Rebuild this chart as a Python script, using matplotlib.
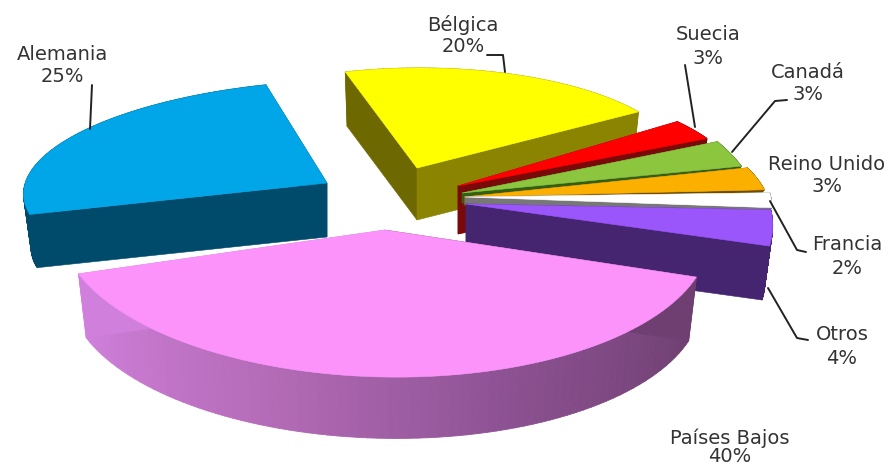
import numpy as np
from matplotlib import pyplot as plt
from matplotlib.collections import PolyCollection
from matplotlib.colors import LinearSegmentedColormap
from matplotlib.patches import Polygon

# in pie order, counter-clockwise
labels = ['Otros', 'Francia', 'Reino Unido', 'Canadá', 'Suecia', 'Bélgica', 'Alemania', 'Países Bajos']
values = [4, 2, 3, 3, 3, 20, 25, 40]
start_angle = 339

top_colors = ['#9a55fb', '#ffffff', '#fbb000', '#8cc63f', '#ff0000', '#ffff00', '#00a6e8', '#fb93fb']
side_colors = ['#45256f', '#777777', '#6e4c00', '#335f14', '#7a0a0a', '#8a8400', '#004a6b', '#a865a8']

# apex of each slice and the matrix that lays the unit circle down on the page
apex = [(466, 204), (465, 197), (464, 197), (462, 193), (458, 186), (417, 168), (327, 183), (385, 230)]
shape = [(299, -68, -11, -146), (305, -33, -3, -119), (301, -59, -6, -118), (294, -45, 0, -136),
         (282, -32, -8, -106), (266, -3, -2, -100), (303, 18, -5, -103), (324, -25, -6, -147)]
depth = [55, 8, 8, 10, 48, 52, 54, 65]
shrink = 0.975

# label text position x, y of first line, y of second line
label_pos = [(842, 335, 358), (847, 245, 268), (827, 165, 187), (808, 72, 94),
             (708, 35, 58), (463, 25, 46), (62, 55, 76), (730, 438, 457)]

leaders = [[(768, 288), (797, 338), (808, 340)],
           [(770, 201), (797, 250), (806, 252)],
           [(732, 152), (775, 101), (787, 100)],
           [(695, 127), (685, 65)],
           [(505, 72), (503, 55), (487, 55)],
           [(90, 129), (92, 85)]]

pink_cmap = LinearSegmentedColormap.from_list('pink_side', ['#d080dc', '#b56cb8', '#8a5090', '#6e3f70'])


def rim(i, t):
    a, b, e, f = shape[i]
    t = np.radians(t)
    x = apex[i][0] + a * np.cos(t) + b * np.sin(t)
    y = apex[i][1] + e * np.cos(t) + f * np.sin(t)
    return np.column_stack([x, y])


def lower(i, pts):
    # bottom of the slice, a bit smaller than the top
    ap = np.array(apex[i], dtype=float)
    return ap + (pts - ap) * shrink + [0, depth[i]]


def draw_slice(ax, i, t1, t2):
    ts = np.linspace(t1, t2, 80)
    arc = rim(i, ts)
    low = lower(i, arc)
    ap = np.array([apex[i]], dtype=float)
    name = labels[i]

    # outer wall
    quads = [[arc[k], arc[k + 1], low[k + 1], low[k]] for k in range(len(ts) - 1)]
    if name == 'Países Bajos':
        cols = pink_cmap(np.linspace(0, 1, len(quads)))
    else:
        cols = side_colors[i]
    ax.add_collection(PolyCollection(quads, facecolors=cols, edgecolors='face', linewidths=0.6))

    # the two cut faces
    end_col = side_colors[i]
    start_col = side_colors[i]
    if name == 'Bélgica':
        end_col = '#6e6800'
    if name == 'Países Bajos':
        start_col = '#d080dc'
        end_col = '#6e3f70'
    for pt, col in ((arc[-1], end_col), (arc[0], start_col)):
        pt = pt.reshape(1, 2)
        face = np.vstack([ap, pt, lower(i, pt), lower(i, ap)])
        ax.add_patch(Polygon(face, closed=True, fc=col, ec=col, lw=0.4))

    ax.add_patch(Polygon(np.vstack([ap, arc]), closed=True, fc=top_colors[i], ec=top_colors[i], lw=0.4))


fig = plt.figure(figsize=(8.92, 4.67), dpi=100)
ax = fig.add_axes([0, 0, 1, 1])
ax.set_xlim(0, 892)
ax.set_ylim(467, 0)
ax.axis('off')

angles = start_angle + np.cumsum([0] + values) * 3.6
# back slices first, front slice over them
for i in [6, 5, 4, 3, 2, 1, 0, 7]:
    draw_slice(ax, i, angles[i], angles[i + 1])

for line in leaders:
    xs, ys = zip(*line)
    ax.plot(xs, ys, color='#222222', lw=1.4, solid_capstyle='round')

for name, val, (x, y1, y2) in zip(labels, values, label_pos):
    ax.text(x, y1, name, ha='center', va='center', fontsize=14, color='#333333')
    ax.text(x, y2, '%d%%' % val, ha='center', va='center', fontsize=14, color='#333333')

fig.savefig('out.png', dpi=100)
